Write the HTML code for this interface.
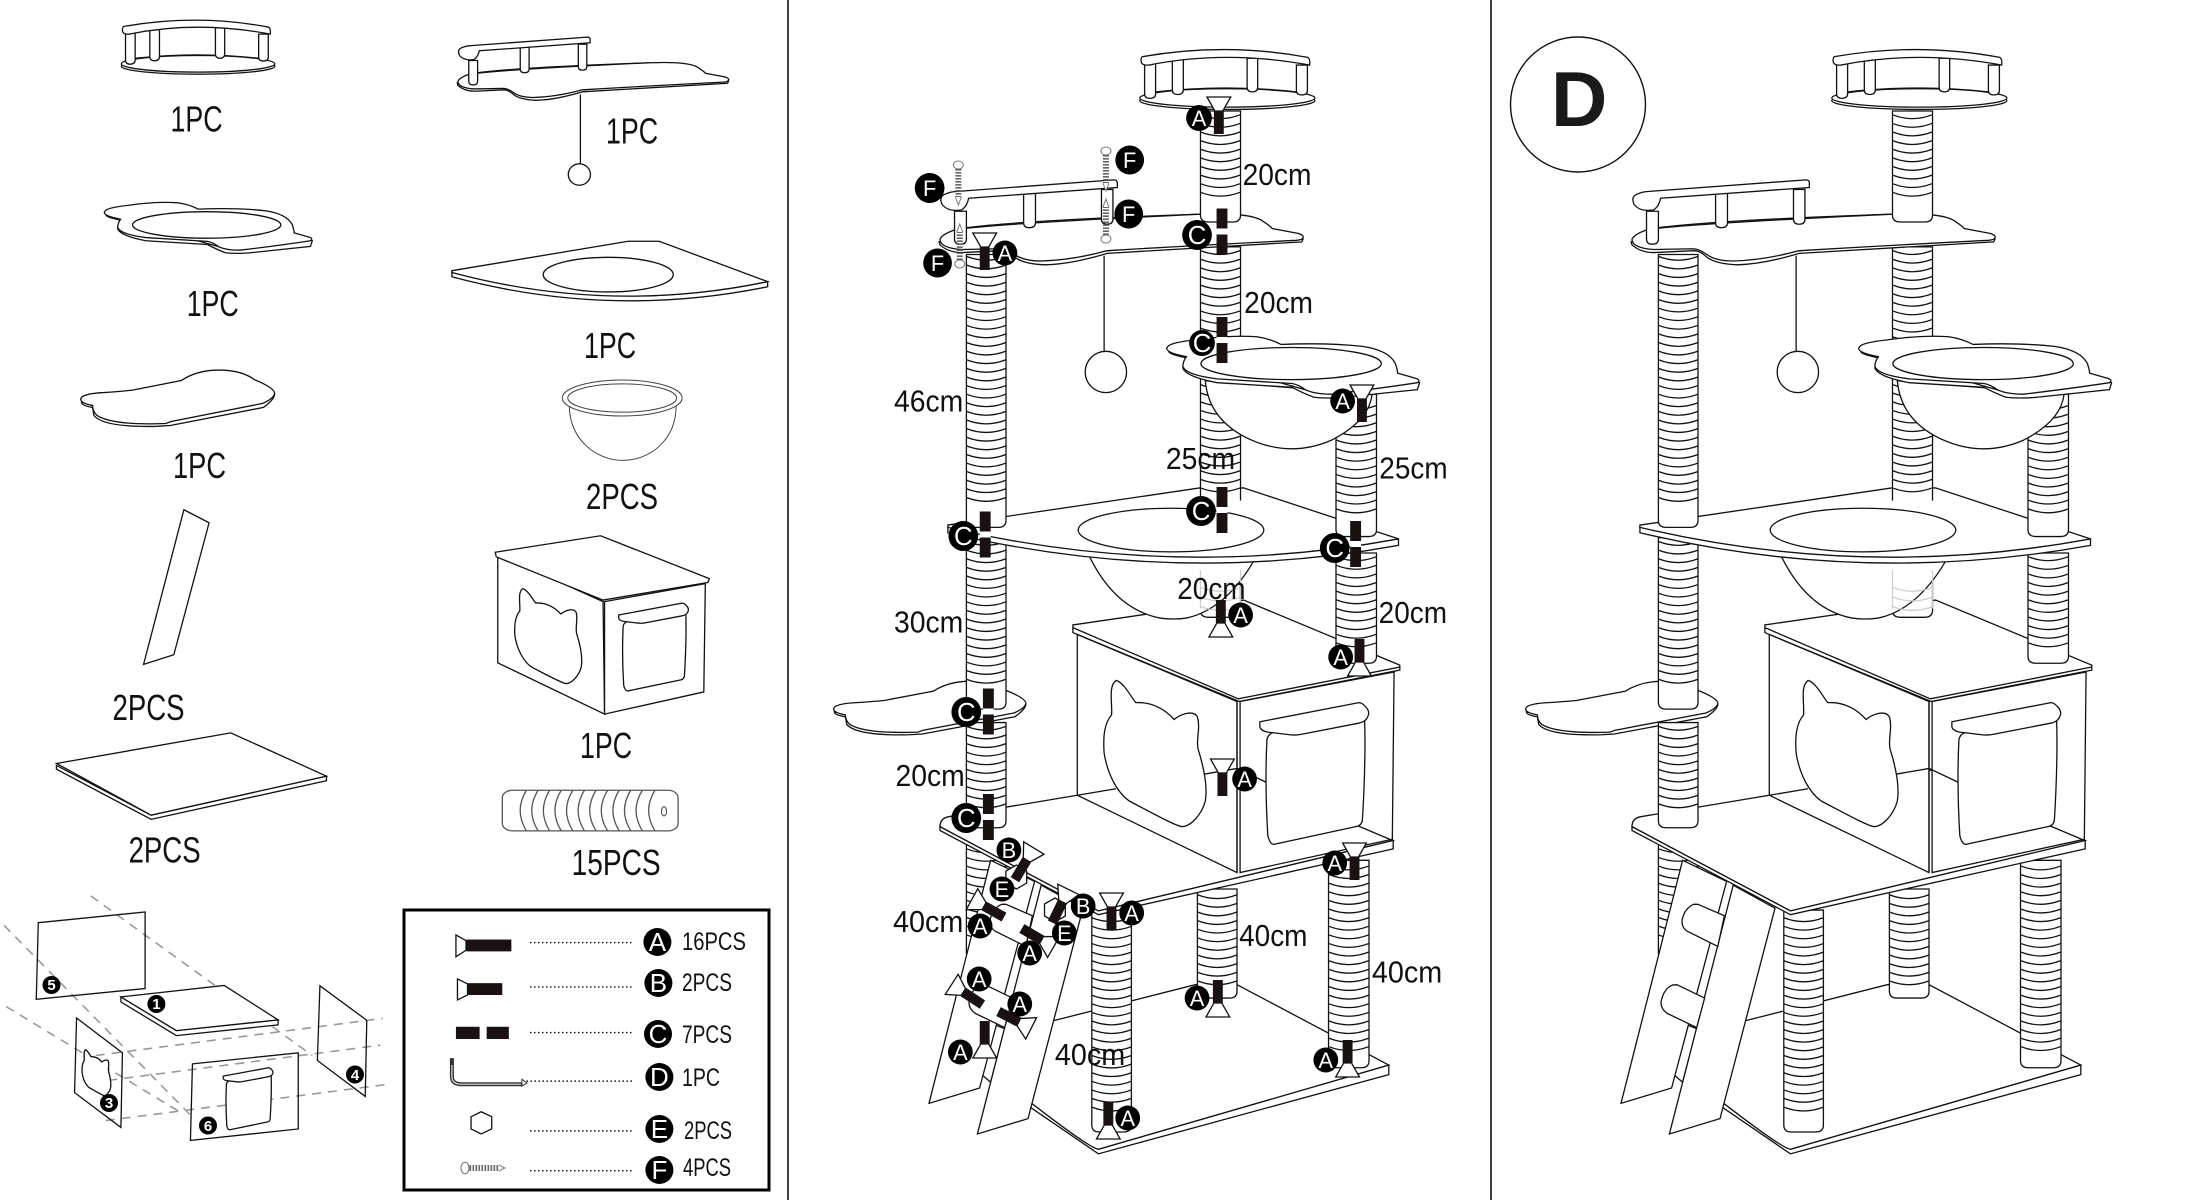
<!DOCTYPE html>
<html><head><meta charset="utf-8"><style>
html,body{margin:0;padding:0;background:#fff}
svg{display:block}
svg path,svg ellipse,svg line,svg rect,svg polygon,svg polyline,svg circle{vector-effect:non-scaling-stroke}
.o{fill:#fff;stroke:#111;stroke-width:1.3}
.n{fill:none;stroke:#111;stroke-width:1.3}
.k{fill:#1a1212;stroke:none}
.d{fill:none;stroke:#999;stroke-width:1.6;stroke-dasharray:9 7}
.t{font-family:"Liberation Sans Narrow","Liberation Sans",sans-serif;fill:#111}
.l{font-size:36px}.m{font-size:31px}.s{font-size:25px}
.b circle{fill:#000;stroke:none}
.b text{font-family:"Liberation Sans",sans-serif;fill:#fff;font-size:22px;text-anchor:middle}
.c text{font-size:26px;transform:translateY(1px)}
.h text{font-size:15px;font-weight:bold}
</style></head><body>
<svg width="2190" height="1200" viewBox="0 0 2190 1200" xmlns="http://www.w3.org/2000/svg">
<rect width="2190" height="1200" fill="#fff"/>
<defs>
<path id="s1" class="n" d="M0 0q45 20 90 0"/>
<path id="s5" class="n" d="M0 0q45 20 90 0M0 22.5q45 20 90 0M0 45q45 20 90 0M0 67.5q45 20 90 0M0 90q45 20 90 0"/>
<g id="s10"><use href="#s5"/><use href="#s5" y="112.5"/></g>
<path id="cat" class="o" d="M690 300C692 270 682 225 700 210C718 215 735 255 745 268C785 265 815 290 832 312C845 300 875 285 885 305C893 335 880 370 888 395C900 440 908 490 903 525C895 560 870 592 850 592C835 590 780 555 730 525C700 500 680 450 673 400C670 350 675 320 690 300Z"/>
<g id="door">
<path class="o" d="M1043 365Q1045 350 1060 345L1265 310Q1268 420 1260 575Q1258 590 1245 592L1060 638Q1050 640 1045 615Q1038 480 1043 365Z"/>
<path class="o" d="M1027 318L1252 268Q1260 268 1268 280Q1278 292 1272 305Q1268 318 1250 322L1125 350Q1110 354 1095 352L1045 345Q1030 342 1027 332Z"/>
</g>
<g id="plat">
<ellipse class="o" cx="953" cy="263" rx="199" ry="23"/>
<ellipse class="o" cx="953" cy="256" rx="199" ry="24"/>
<path class="n" d="M790 240Q950 220 1110 240"/>
<path class="o" d="M765 165H790V245Q790 257 777 257Q765 257 765 245Z"/>
<path class="o" d="M828 155H853V235Q853 247 840 247Q828 247 828 235Z"/>
<path class="o" d="M998 152H1022V228Q1022 240 1010 240Q998 240 998 228Z"/>
<path class="o" d="M1110 170H1135V236Q1135 248 1122 248Q1110 248 1110 236Z"/>
<path class="o" d="M760 148Q950 110 1136 150Q1142 155 1140 170Q950 130 775 170Q757 172 757 158Q757 150 760 148Z"/>
</g>
<g id="shelf2">
<path class="n" d="M360 595Q500 575 885 560"/>
<path class="o" d="M298 632L300 640Q320 660 350 660L440 655Q455 655 470 672Q490 690 540 692Q600 690 680 662L1122 632L1125 625L1120 618L680 655Z"/>
<path class="o" d="M300 625Q305 612 335 600Q420 585 885 560Q1000 555 1030 575Q1050 590 1055 597L1115 610Q1128 615 1125 622Q1122 627 1110 628Q900 640 680 655Q600 680 530 682Q490 682 470 665Q455 652 440 650L350 652Q300 648 300 625Z"/>
<path class="o" d="M333 552H360V625Q360 638 346 638Q333 638 333 625Z"/>
<path class="o" d="M490 505H517V582Q517 595 503 595Q490 595 490 582Z"/>
<path class="o" d="M667 495H693V573Q693 586 680 586Q667 586 667 573Z"/>
<path class="o" d="M340 500L695 470Q703 470 703 478V490L365 518Q362 538 350 548Q320 555 305 535Q297 515 310 508Q325 500 340 500Z"/>
</g>
<g id="bshelf">
<path class="o" d="M820 918Q818 925 860 935L852 962Q860 985 930 1000L1100 1012Q1130 1030 1150 1038Q1180 1042 1220 1038L1385 1018L1390 1000L1340 985L1150 1025Z"/>
<path class="o" d="M818 905Q825 895 880 888Q960 875 1020 880Q1050 885 1075 900Q1180 895 1260 905Q1320 915 1335 950Q1340 968 1340 975L1385 990Q1392 995 1385 1000Q1300 1015 1190 1030Q1150 1030 1130 1018Q1115 1005 1100 1002L930 990Q860 980 852 958Q852 945 860 932Q815 922 815 910Z"/>
<ellipse class="o" cx="1098" cy="950" rx="205" ry="42"/>
</g>
<g id="lshelf">
<path class="o" d="M318 1375V1392Q830 1532 1342 1425V1408Q830 1517 318 1375Z"/>
<path class="o" d="M318 1372L890 1275H990L1342 1408Q830 1517 318 1378Z"/>
<ellipse class="o" cx="825" cy="1385" rx="211" ry="57"/>
</g>
<g id="perch">
<path class="o" d="M60 292Q60 300 85 305L88 325Q110 355 230 352L260 350L470 305Q495 285 495 272L490 268L260 340Z"/>
<path class="o" d="M60 280Q70 270 110 268Q150 265 175 262L285 238Q320 212 370 212Q420 212 450 236Q498 258 495 272Q490 285 468 295L262 340L250 345Q130 350 95 325Q85 315 85 300Q60 295 58 285Z"/>
</g>
<g id="scr"><path class="o" d="M-12 -14H12L4 0H-4Z"/><rect class="k" x="-5" y="0" width="10" height="23"/></g>
<g id="con"><rect class="k" x="-5" y="-23" width="11" height="20"/><rect class="k" x="-5" y="3" width="11" height="20"/><rect x="-5" y="-3" width="11" height="6" fill="#fff"/></g>
<g id="fs"><ellipse cx="0" cy="4" rx="5" ry="4" fill="#fff" stroke="#777" stroke-width="1"/><line x1="0" y1="8" x2="0" y2="36" stroke="#666" stroke-width="6" stroke-dasharray="1.6 1.4"/><path d="M-3 36L0 44L3 36" fill="#fff" stroke="#777" stroke-width="1"/></g>
<g id="tree">
<!-- base -->
<g transform="translate(0,1568)">
<path class="o" d="M505 1325L660 1447L1320 1240V1215L660 1435L505 1312Z"/>
<path class="o" d="M555 1100L880 1005L975 1005L1320 1215L660 1435Q640 1432 505 1312L420 1200Z"/>
<path class="o" d="M885 755H975V1022Q975 1040 957 1040H903Q885 1040 885 1022Z"/><use href="#s10" x="885" y="770"/><use href="#s1" x="885" y="995"/>
<path class="o" d="M1183 680H1275V1204Q1275 1222 1257 1222H1201Q1183 1222 1183 1204Z"/><use href="#s10" x="1184" y="695"/><use href="#s10" x="1184" y="920"/><use href="#s1" x="1184" y="1145"/><use href="#s1" x="1184" y="1167"/>
<path class="o" d="M645 810H735V1372Q735 1390 717 1390H663Q645 1390 645 1372Z"/><use href="#s10" x="645" y="830"/><use href="#s10" x="645" y="1055"/><use href="#s1" x="645" y="1280"/><use href="#s1" x="645" y="1302"/><use href="#s1" x="645" y="1325"/>
<path class="n" d="M360 640V925M450 640V700"/><use href="#s5" x="360" y="650"/><use href="#s5" x="360" y="762"/><use href="#s1" x="360" y="875"/>
<!-- ladder -->
<polygon class="o" points="390,1235 425,1110 447,1120 415,1260"/>
<path class="o" d="M415 680L275 1315L390 1275L515 735Z"/>
<path class="o" d="M530 745L385 1395L500 1355L625 805Z"/>
<path class="o" d="M450 795L510 825L495 905L425 865Q412 855 414 835Q420 805 440 795Z"/>
<path class="o" d="M402 1005L465 1040L447 1117L380 1080Q365 1068 366 1050Q372 1015 392 1006Z"/>
<!-- floor shelf and box -->
<path class="o" d="M300 592V602L660 822L1330 650V628L660 812Z"/>
<path class="o" d="M300 592Q300 570 320 566L612 510L970 440L1330 628L660 812Z"/>
<polygon class="o" points="602,65 990,0 1345,170 1345,183 980,265 602,85"/>
<path class="n" d="M602 72L978 258L1345 175"/>
<polygon class="o" points="612,90 975,265 975,712 612,510"/>
<polygon class="o" points="982,265 1332,188 1328,625 982,712"/>
<path class="n" d="M975 265V712M612 510L700 493M900 455L975 440L1045 478M1250 590L1328 628"/>
<use href="#cat"/><use href="#door"/>
<use href="#perch"/>
<path class="o" d="M360 320H450V577Q450 595 432 595H378Q360 595 360 577Z"/><use href="#s10" x="360" y="330"/>
</g>
<!-- upper lower sections -->
<path class="o" d="M360 1405H450V1835Q450 1853 432 1853H378Q360 1853 360 1835Z"/><use href="#s10" x="360" y="1415"/><use href="#s5" x="360" y="1640"/><use href="#s1" x="360" y="1752"/><use href="#s1" x="360" y="1775"/>
<path class="o" d="M1200 1445H1292V1715Q1292 1733 1274 1733H1218Q1200 1733 1200 1715Z"/><use href="#s10" x="1201" y="1455"/><use href="#s1" x="1201" y="1680"/>
<path class="o" d="M892 1480H983V1595Q983 1613 965 1613H910Q892 1613 892 1595Z"/><use href="#s1" x="892" y="1490"/><use href="#s1" x="892" y="1512"/>
<path class="o" d="M630 1430Q690 1590 800 1615Q830 1620 860 1615Q960 1590 1030 1430Z"/>
<path fill="none" stroke="#ccc" stroke-width="1.2" d="M892 1490V1590M983 1490V1590M892 1535q45 20 91 0M892 1560q45 20 91 0M892 1585q45 20 91 0"/>
<use href="#lshelf"/>
<path class="o" d="M360 665H450V1360Q450 1378 432 1378H378Q360 1378 360 1360Z"/><use href="#s10" x="360" y="670"/><use href="#s10" x="360" y="895"/><use href="#s5" x="360" y="1120"/><use href="#s1" x="360" y="1232"/><use href="#s1" x="360" y="1255"/><use href="#s1" x="360" y="1277"/><use href="#s1" x="360" y="1300"/>
<path class="o" d="M1200 1030H1292V1384Q1292 1402 1274 1402H1218Q1200 1402 1200 1384Z"/><use href="#s10" x="1201" y="1060"/><use href="#s1" x="1201" y="1285"/><use href="#s1" x="1201" y="1307"/><use href="#s1" x="1201" y="1330"/>
<rect x="892" y="990" width="91" height="318" fill="#fff"/><path class="n" d="M892 990V1308M983 990V1308"/><use href="#s1" x="892" y="1005"/><use href="#s1" x="892" y="1027"/><use href="#s10" x="892" y="1050"/><use href="#s1" x="892" y="1275"/>
<rect x="892" y="645" width="91" height="245" class="o"/><use href="#s10" x="892" y="655"/><use href="#s1" x="892" y="880"/>
<path class="o" d="M903 995Q910 1090 990 1140Q1090 1200 1190 1150Q1275 1100 1282 1030Z"/>
<use href="#bshelf"/>
<use href="#shelf2"/>
<line class="n" x1="673" y1="668" x2="673" y2="918"/><ellipse class="o" cx="677" cy="972" rx="47" ry="54"/>
<path class="o" d="M892 290V562Q892 580 910 580H965Q983 580 983 562V290Z"/><use href="#s10" x="892" y="300"/>
<use href="#plat"/>
</g>
</defs>

<line x1="788" y1="0" x2="788" y2="1200" stroke="#111" stroke-width="1.6"/>
<line x1="1491" y1="0" x2="1491" y2="1200" stroke="#111" stroke-width="1.6"/>

<!-- LEFT PANEL PARTS -->
<g transform="scale(.5038,.3827)">
<use href="#plat" transform="translate(243,53) scale(.766,.903) translate(-757,-130)"/>
<use href="#shelf2" transform="translate(907,97) scale(.651,.744) translate(-297,-470)"/>
<line class="n" x1="1152" y1="247" x2="1152" y2="427"/><ellipse class="o" cx="1150" cy="456" rx="22" ry="28"/>
<use href="#bshelf" transform="translate(207,530) scale(.718,.825) translate(-815,-880)"/>
<use href="#lshelf" transform="translate(897,628) scale(.612,.793) translate(-318,-1272)"/>
<use href="#perch" transform="translate(160,967) scale(.881,1.05) translate(-58,-212)"/>
<path fill="#fff" stroke="#444" stroke-width="1" d="M1130 1060C1130 1150 1185 1203 1236 1203C1290 1203 1342 1150 1342 1060Z"/>
<ellipse fill="#fff" stroke="#444" stroke-width="1" cx="1235" cy="1040" rx="119" ry="47"/><ellipse fill="#fff" stroke="#444" stroke-width="1" cx="1235" cy="1040" rx="108" ry="37"/>
<polygon class="o" points="365,1332 415,1366 345,1711 285,1736"/>
<g transform="translate(0,1568)">
<path class="o" d="M112 432V442L300 573L648 472V460L300 562Z"/>
<polygon class="o" points="112,427 458,347 648,460 300,562"/>
<polygon class="o" points="988,-120 1197,4 1200,298 988,164"/>
<polygon class="o" points="1200,4 1400,-43 1397,240 1200,298"/>
<polygon class="o" points="983,-125 1192,-168 1408,-56 1405,-46 1197,0 985,-113"/>
<use href="#cat" transform="translate(1022,-30) scale(.573,.65) translate(-673,-210)"/>
<use href="#door" transform="translate(1228,8) scale(.56,.62) translate(-1027,-268)"/>
<rect fill="#fff" stroke="#555" stroke-width="1.3" x="997" y="497" width="349" height="106" rx="20" ry="20"/>
<path fill="none" stroke="#555" stroke-width="1.3" d="M1045 497Q1020 550 1045 603M1068 497Q1043 550 1068 603M1091 497Q1066 550 1091 603M1114 497Q1089 550 1114 603M1137 497Q1112 550 1137 603M1160 497Q1135 550 1160 603M1183 497Q1158 550 1183 603M1206 497Q1181 550 1206 603M1229 497Q1204 550 1229 603M1252 497Q1227 550 1252 603M1275 497Q1250 550 1275 603M1300 497Q1275 550 1300 603"/>
<ellipse fill="none" stroke="#555" stroke-width="1.1" cx="1318" cy="552" rx="5" ry="12"/>
<!-- exploded box -->
<path class="d" d="M180 773L620 1190M8 850L385 1355M12 1062L360 1340M190 1190L760 1093M215 1255L755 1163M210 1360L772 1265"/>
<polygon class="n" points="76,843 288,815 288,1015 72,1043"/>
<path class="o" d="M240 1037V1050L350 1138L552 1110V1097L350 1125Z"/>
<polygon class="o" points="240,1037 445,1007 552,1097 350,1125"/>
<polygon class="n" points="152,1092 243,1183 240,1378 148,1287"/>
<use href="#cat" transform="translate(163,1175) scale(.246,.314) translate(-673,-210)"/>
<polygon class="n" points="635,1008 728,1098 725,1297 630,1203"/>
<polygon class="n" points="382,1212 592,1183 592,1382 378,1412"/>
<use href="#door" transform="translate(443,1222) scale(.4,.438) translate(-1027,-268)"/>
<!-- legend icons -->
<polygon class="o" points="905,875 925,890 925,915 905,932"/><rect class="k" x="926" y="887" width="89" height="31"/>
<polygon class="o" points="908,990 928,1003 928,1032 908,1045"/><rect class="k" x="928" y="1001" width="69" height="31"/>
<rect class="k" x="905" y="1115" width="47" height="32"/><rect class="k" x="966" y="1115" width="44" height="32"/>
<path fill="none" stroke="#333" stroke-width="4" d="M897 1197V1245Q897 1265 915 1265H1036"/>
<path fill="none" stroke="#ddd" stroke-width="1.2" d="M897 1215V1245Q897 1265 915 1265H1034"/>
<path fill="#fff" stroke="#333" stroke-width="1" d="M1036 1252L1046 1262L1036 1270Z"/>
<polygon class="o" points="955,1337 976,1350 976,1382 955,1395 935,1382 935,1350"/>
<ellipse fill="#fff" stroke="#777" stroke-width="1.1" cx="923" cy="1484" rx="8" ry="15"/>
<path fill="none" stroke="#666" stroke-width="6" stroke-dasharray="1.6 1.4" d="M932 1484H990"/>
<path fill="none" stroke="#777" stroke-width="1" d="M990 1476L1002 1484L990 1492"/>
<path fill="none" stroke="#111" stroke-width="1.4" stroke-dasharray="1.5 2.5" d="M1052 895H1255M1052 1011H1255M1052 1130H1255M1045 1257H1255M1052 1387H1255M1052 1491H1255"/>
</g>
</g>
<rect x="404" y="910" width="365" height="280" fill="none" stroke="#000" stroke-width="3"/>

<!-- TREES -->
<g transform="translate(808,0) scale(.44,.3827)"><use href="#tree"/></g>
<g transform="translate(1500,0) scale(.44,.3827)"><use href="#tree"/></g>

<!-- D badge -->
<circle cx="1578" cy="104.5" r="67.5" fill="#fff" stroke="#111" stroke-width="1.4"/>
<text x="1551" y="126" font-family="Liberation Sans,sans-serif" font-weight="bold" font-size="78" fill="#1a1a1a">D</text>

<!-- MIDDLE PANEL OVERLAYS -->
<g transform="translate(7.58,0) scale(.9904,1)">
<use href="#scr" transform="translate(1223,111)"/>
<use href="#scr" transform="translate(986.6,247)"/>
<use href="#scr" transform="translate(1367.5,399)"/>
<use href="#scr" transform="translate(1225,623) rotate(180)"/>
<use href="#scr" transform="translate(1365,662) rotate(180)"/>
<use href="#scr" transform="translate(1226.6,773)"/>
<use href="#scr" transform="translate(1360,857)"/>
<use href="#scr" transform="translate(1114.6,907)"/>
<use href="#scr" transform="translate(1222,1003) rotate(180)"/>
<use href="#scr" transform="translate(986.6,1044) rotate(180)"/>
<use href="#scr" transform="translate(1353,1063) rotate(180)"/>
<use href="#scr" transform="translate(1111.4,1125) rotate(180)"/>
<use href="#con" transform="translate(1225.7,231.5)"/>
<use href="#con" transform="translate(1225.7,340)"/>
<use href="#con" transform="translate(1225.7,510)"/>
<use href="#con" transform="translate(986.6,534.5)"/>
<use href="#con" transform="translate(1360.6,544)"/>
<use href="#con" transform="translate(989.8,711.5)"/>
<use href="#con" transform="translate(989.8,817)"/>
<use href="#fs" transform="translate(960,161)"/>
<use href="#fs" transform="translate(1109,147)"/>
<use href="#fs" transform="translate(1109,243) rotate(180)"/>
<use href="#fs" transform="translate(961.4,268) rotate(180)"/>
<polygon class="o" points="1018.6,865 1029,871 1029,883 1018.6,889 1008,883 1008,871"/>
<polygon class="o" points="1057.5,898 1068,904 1068,916 1057.5,922 1047,916 1047,904"/>
<use href="#scr" transform="translate(1029,860) rotate(31)"/>
<use href="#scr" transform="translate(1065,902) rotate(26)"/>
<use href="#scr" transform="translate(986,906) rotate(-61)"/>
<use href="#scr" transform="translate(1044,940) rotate(120)"/>
<use href="#scr" transform="translate(965,992) rotate(-57)"/>
<use href="#scr" transform="translate(1021,1022) rotate(117)"/>

<g class="b">
<circle cx="1203" cy="118" r="13"/><text x="1203" y="126">A</text>
<circle cx="1133" cy="160" r="14.5"/><text x="1133" y="168">F</text>
<circle cx="931" cy="188" r="15"/><text x="931" y="196">F</text>
<circle cx="1132" cy="214" r="14.5"/><text x="1132" y="222">F</text>
<circle cx="1007" cy="253" r="12.5"/><text x="1007" y="261">A</text>
<circle cx="939" cy="263" r="14.5"/><text x="939" y="271">F</text>
<circle cx="1348" cy="401" r="12.5"/><text x="1348" y="409">A</text>
<circle cx="1245" cy="615" r="12.5"/><text x="1245" y="623">A</text>
<circle cx="1346" cy="657" r="12.5"/><text x="1346" y="665">A</text>
<circle cx="1249" cy="779" r="12.5"/><text x="1249" y="787">A</text>
<circle cx="1011" cy="850" r="12.5"/><text x="1011" y="858">B</text>
<circle cx="1340" cy="863" r="12.5"/><text x="1340" y="871">A</text>
<circle cx="1004" cy="889" r="12.5"/><text x="1004" y="897">E</text>
<circle cx="1086" cy="906" r="12.5"/><text x="1086" y="914">B</text>
<circle cx="1135" cy="913" r="12.5"/><text x="1135" y="921">A</text>
<circle cx="982" cy="926" r="12.5"/><text x="982" y="934">A</text>
<circle cx="1067" cy="933" r="12.5"/><text x="1067" y="941">E</text>
<circle cx="1032" cy="953" r="12.5"/><text x="1032" y="961">A</text>
<circle cx="981" cy="979" r="12.5"/><text x="981" y="987">A</text>
<circle cx="1022" cy="1004" r="12.5"/><text x="1022" y="1012">A</text>
<circle cx="1201" cy="998" r="12.5"/><text x="1201" y="1006">A</text>
<circle cx="962" cy="1052" r="12.5"/><text x="962" y="1060">A</text>
<circle cx="1331" cy="1060" r="12.5"/><text x="1331" y="1068">A</text>
<circle cx="1131" cy="1118" r="12.5"/><text x="1131" y="1126">A</text>
</g>
<g class="b c">
<circle cx="1201" cy="235" r="15"/><text x="1201" y="243">C</text>
<circle cx="1206" cy="343" r="13"/><text x="1206" y="351">C</text>
<circle cx="1205" cy="511" r="15"/><text x="1205" y="519">C</text>
<circle cx="965" cy="536" r="15"/><text x="965" y="544">C</text>
<circle cx="1340" cy="548" r="15"/><text x="1340" y="556">C</text>
<circle cx="968" cy="712" r="15"/><text x="968" y="720">C</text>
<circle cx="968" cy="818" r="15"/><text x="968" y="826">C</text>
</g>
<g class="t m">
<text x="1247" y="185" textLength="69.5" lengthAdjust="spacingAndGlyphs">20cm</text>
<text x="1248.6" y="313" textLength="69.5" lengthAdjust="spacingAndGlyphs">20cm</text>
<text x="895" y="411.4" textLength="70" lengthAdjust="spacingAndGlyphs">46cm</text>
<text x="1169.5" y="469" textLength="70" lengthAdjust="spacingAndGlyphs">25cm</text>
<text x="1385" y="478.4" textLength="69" lengthAdjust="spacingAndGlyphs">25cm</text>
<text x="1181" y="599" textLength="69" lengthAdjust="spacingAndGlyphs">20cm</text>
<text x="1384.4" y="623" textLength="69" lengthAdjust="spacingAndGlyphs">20cm</text>
<text x="895" y="632.5" textLength="70" lengthAdjust="spacingAndGlyphs">30cm</text>
<text x="896.5" y="786" textLength="70" lengthAdjust="spacingAndGlyphs">20cm</text>
<text x="894" y="932" textLength="71" lengthAdjust="spacingAndGlyphs">40cm</text>
<text x="1243.5" y="946" textLength="69" lengthAdjust="spacingAndGlyphs">40cm</text>
<text x="1377.5" y="982.7" textLength="71" lengthAdjust="spacingAndGlyphs">40cm</text>
<text x="1057.5" y="1065" textLength="71" lengthAdjust="spacingAndGlyphs">40cm</text>
</g>
</g>

<!-- LEGEND + STEP BADGES -->
<g class="b c">
<circle cx="657.4" cy="942" r="14"/><text x="657.4" y="950">A</text>
<circle cx="658.4" cy="983" r="14"/><text x="658.4" y="991">B</text>
<circle cx="658" cy="1034" r="14"/><text x="658" y="1042">C</text>
<circle cx="659.4" cy="1077" r="14"/><text x="659.4" y="1085">D</text>
<circle cx="659.4" cy="1129" r="14"/><text x="659.4" y="1137">E</text>
<circle cx="659.4" cy="1170" r="14"/><text x="659.4" y="1178">F</text>
</g>
<g class="b h">
<circle cx="51.5" cy="985" r="9"/><text x="51.5" y="990">5</text>
<circle cx="156.4" cy="1004" r="9"/><text x="156.4" y="1009">1</text>
<circle cx="109" cy="1103" r="9"/><text x="109" y="1108">3</text>
<circle cx="355" cy="1074.5" r="9"/><text x="355" y="1080">4</text>
<circle cx="208" cy="1125.5" r="9"/><text x="208" y="1131">6</text>
</g>

<!-- PART LABELS -->
<g class="t l">
<text x="170.5" y="131.5" textLength="52" lengthAdjust="spacingAndGlyphs">1PC</text>
<text x="606" y="143.5" textLength="52" lengthAdjust="spacingAndGlyphs">1PC</text>
<text x="186.7" y="316" textLength="52" lengthAdjust="spacingAndGlyphs">1PC</text>
<text x="584" y="358" textLength="52" lengthAdjust="spacingAndGlyphs">1PC</text>
<text x="173" y="478" textLength="53" lengthAdjust="spacingAndGlyphs">1PC</text>
<text x="586" y="509" textLength="72" lengthAdjust="spacingAndGlyphs">2PCS</text>
<text x="112.5" y="720" textLength="72" lengthAdjust="spacingAndGlyphs">2PCS</text>
<text x="580" y="758" textLength="52" lengthAdjust="spacingAndGlyphs">1PC</text>
<text x="128.6" y="862.5" textLength="72" lengthAdjust="spacingAndGlyphs">2PCS</text>
<text x="571.6" y="875" textLength="89" lengthAdjust="spacingAndGlyphs">15PCS</text>
</g>
<g class="t s">
<text x="682" y="950" textLength="64" lengthAdjust="spacingAndGlyphs">16PCS</text>
<text x="682" y="991" textLength="50" lengthAdjust="spacingAndGlyphs">2PCS</text>
<text x="682" y="1043" textLength="50" lengthAdjust="spacingAndGlyphs">7PCS</text>
<text x="682" y="1086" textLength="38" lengthAdjust="spacingAndGlyphs">1PC</text>
<text x="684" y="1139" textLength="48" lengthAdjust="spacingAndGlyphs">2PCS</text>
<text x="683" y="1176" textLength="48" lengthAdjust="spacingAndGlyphs">4PCS</text>
</g>
</svg>
</body></html>
